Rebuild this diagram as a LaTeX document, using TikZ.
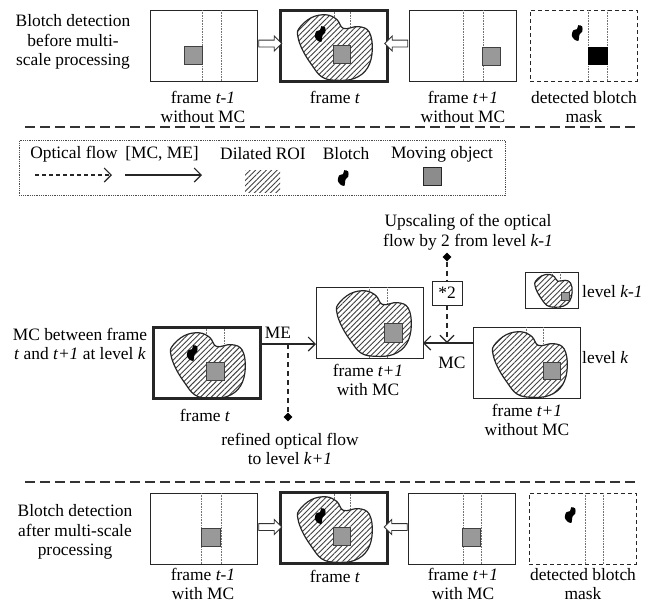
\documentclass[tikz,border=0pt]{standalone}
\usepackage{fontspec}
\setmainfont{Liberation Serif}
\usetikzlibrary{arrows.meta,patterns.meta,shapes.arrows,shapes.geometric,calc}
\begin{document}
\begin{tikzpicture}[x=1pt,y=-1pt,font=\fontsize{17.4}{19.5}\selectfont,
  frm/.style={draw=black!85,line width=0.9pt,minimum width=107pt,minimum height=71pt,inner sep=0pt,outer sep=0pt,anchor=north west},
  frmt/.style={frm,line width=3pt},
  maskbox/.style={frm,dash pattern=on 4pt off 3pt},
  lab/.style={align=center,inner sep=0pt},
  sepline/.style={line width=2pt,dash pattern=on 10pt off 5pt,black!80},
  hollow/.style={single arrow,draw=black!80,line width=0.9pt,fill=white,minimum height=23pt,single arrow head extend=4pt,inner xsep=0pt,inner ysep=3pt,outer sep=0pt},
  dots/.style={densely dotted,black!55,line width=0.6pt},
  sq/.style={fill=black!40,draw=black!75,line width=0.8pt},
  blacksq/.style={fill=black,draw=black},
  hatch/.style={pattern={Lines[angle=45,distance=3.8pt,line width=0.9pt]},pattern color=black!75},
  roi/.style={preaction={fill=white},hatch,draw=black!85,line width=1.2pt},
  flowline/.style={line width=1.8pt,dash pattern=on 5pt off 4pt,black!85},
  solidarrow/.style={line width=1.1pt,black!85,-{Straight Barb[length=7pt,width=14pt,line width=1.1pt]}},
  dasharrow/.style={line width=1.1pt,black!85,dash pattern=on 4pt off 3pt,-{Straight Barb[length=7pt,width=14pt,line width=1.1pt]}},
  dia/.style={diamond,fill=black,inner sep=0pt,minimum size=9pt},
  blob/.pic={\draw[roi] plot[smooth cycle,tension=0.65] coordinates {(19,18.5) (31.2,7.7) (46,4.8) (56.8,9.5) (63.6,18.5) (78.4,16.6) (89.2,22) (92.3,40.1) (87.4,58.1) (74.4,68.4) (56.8,70.3) (42,67) (31.2,54.1) (22.6,40.1) (18,27.1)};},
  blotch/.pic={\fill[black,scale=1.3] plot[smooth cycle,tension=0.5] coordinates {(-4,2) (-3,-2) (0,-3) (1,-6) (4,-5) (4,-1) (2,1) (1,6) (-2,5)};}
]
\useasboundingbox (0,0) rectangle (647,603);

% ---------- top row ----------
\node[lab] (ttext) at (73,42) {Blotch detection\\before multi-\\scale processing};

\node[frm] (f1) at (150,10) {};
\draw[dots] ($(f1.north west)+(52,0)$) -- ($(f1.south west)+(52,0)$);
\draw[dots] ($(f1.north west)+(71,0)$) -- ($(f1.south west)+(71,0)$);
\draw[sq] ($(f1.north west)+(34,36)$) rectangle ($(f1.north west)+(52,54)$);
\node[lab] (l1) at (203,107) {frame \textit{t-1}\\without MC};

\node[frmt] (f2) at (280,10) {};
\draw[dots] ($(f2.north west)+(54,0)$) -- ($(f2.south west)+(54,0)$);
\draw[dots] ($(f2.north west)+(70,0)$) -- ($(f2.south west)+(70,0)$);
\pic at (f2.north west) {blob};
\pic at ($(f2.north west)+(40,24)$) {blotch};
\draw[sq] ($(f2.north west)+(53,35)$) rectangle ($(f2.north west)+(70,53)$);
\node[frmt,fill=none] at (280,10) {};
\node[lab] (l2) at (335,97) {frame \textit{t}};

\node[frm] (f3) at (409,10) {};
\draw[dots] ($(f3.north west)+(54,0)$) -- ($(f3.south west)+(54,0)$);
\draw[dots] ($(f3.north west)+(74,0)$) -- ($(f3.south west)+(74,0)$);
\draw[sq] ($(f3.north west)+(73,37)$) rectangle ($(f3.north west)+(91,55)$);
\node[lab] (l3) at (463,107) {frame \textit{t+1}\\without MC};

\node[maskbox] (m1) at (530,10) {};
\draw[dots] ($(m1.north west)+(58,0)$) -- ($(m1.south west)+(58,0)$);
\draw[dots] ($(m1.north west)+(77,0)$) -- ($(m1.south west)+(77,0)$);
\draw[blacksq] ($(m1.north west)+(58,37)$) rectangle ($(m1.north west)+(77,54)$);
\pic at ($(m1.north west)+(47,23)$) {blotch};
\node[lab] (l4) at (584,107) {detected blotch\\mask};

\node[hollow] (h1) at ($(f1.east)!0.5!(f2.west)+(0,-2)$) {};
\node[hollow,shape border rotate=180] (h2) at ($(f2.east)!0.5!(f3.west)+(0,-2)$) {};

\draw[sepline] (25,127) -- (637,127);

% ---------- legend ----------
\node[draw=black!70,densely dotted,line width=0.8pt,minimum width=486pt,minimum height=55pt,anchor=north west,inner sep=0pt] (leg) at (19,140) {};
\node[lab] (lg1) at (74,154) {Optical flow};
\node[lab] (lg2) at (162,154) {[MC, ME]};
\node[lab] (lg3) at (263,154) {Dilated ROI};
\node[lab] (lg4) at (346,154) {Blotch};
\node[lab] (lg5) at (442,154) {Moving object};
\coordinate (da1) at (35,175);
\coordinate (da2) at (112,175);
\coordinate (sa1) at (125,175);
\coordinate (sa2) at (202,175);
\draw[dasharrow] (da1) -- (da2);
\draw[solidarrow] (sa1) -- (sa2);
\fill[hatch] (245,170) rectangle (280,192);
\pic at (343,178) {blotch};
\draw[sq,fill=black!45,draw=black!85] (423,167) rectangle (441,185);

% ---------- middle ----------
\node[lab] (up) at (468,232) {Upscaling of the optical\\flow by 2 from level \textit{k-1}};
\node[dia] (d1) at (447,257) {};
\node[draw=black!85,line width=0.9pt,minimum width=30pt,minimum height=24pt,inner sep=0pt] (x2) at (447,293) {*2};

\node[lab] (mct) at (80,344) {MC between frame\\\textit{t} and \textit{t+1} at level \textit{k}};

\node[frm] (g1) at (153,327) {};
\draw[dots] ($(g1.north west)+(53,0)$) -- ($(g1.south west)+(53,0)$);
\draw[dots] ($(g1.north west)+(71,0)$) -- ($(g1.south west)+(71,0)$);
\pic at ($(g1.north west)+(0,1)$) {blob};
\pic at ($(g1.north west)+(39,26)$) {blotch};
\draw[sq] ($(g1.north west)+(53,35)$) rectangle ($(g1.north west)+(71,53)$);
\node[frmt,fill=none] at (153,327) {};
\node[lab] (gl1) at (205,415) {frame \textit{t}};

\node[frm] (g2) at (316,287) {};
\draw[dots] ($(g2.north west)+(53,0)$) -- ($(g2.south west)+(53,0)$);
\draw[dots] ($(g2.north west)+(71,0)$) -- ($(g2.south west)+(71,0)$);
\pic at ($(g2.north west)+(3,-1)$) {blob};
\draw[sq] ($(g2.north west)+(68,36)$) rectangle ($(g2.north west)+(86,55)$);
\node[lab] (gl2) at (368,380) {frame \textit{t+1}\\with MC};

\node[frm] (g3) at (473,327) {};
\draw[dots] ($(g3.north west)+(53,0)$) -- ($(g3.south west)+(53,0)$);
\draw[dots] ($(g3.north west)+(70,0)$) -- ($(g3.south west)+(70,0)$);
\pic at ($(g3.north west)+(2,0)$) {blob};
\draw[sq] ($(g3.north west)+(70,35)$) rectangle ($(g3.north west)+(87,52)$);
\node[lab] (gl3) at (527,420) {frame \textit{t+1}\\without MC};
\node[lab,anchor=west] (lk) at (582,358) {level \textit{k}};

\node[frm,minimum width=53pt,minimum height=36pt] (g4) at (525,272) {};
\draw[dots] ($(g4.north west)+(27,0)$) -- ($(g4.south west)+(27,0)$);
\draw[dots] ($(g4.north west)+(35,0)$) -- ($(g4.south west)+(35,0)$);
\pic[scale=0.5] at ($(g4.north west)+(1,0)$) {blob};
\draw[sq,line width=0.6pt] ($(g4.north west)+(36,20)$) rectangle ($(g4.north west)+(44,28)$);
\node[lab,anchor=west] (lk1) at (582,292) {level \textit{k-1}};

% ME arrow
\coordinate (meS) at ($(g1.north east)+(0,17)$);
\coordinate (meE) at (g2.west |- meS);
\draw[solidarrow] (meS) -- (meE);
\node[lab] (me) at (278,333) {ME};
\coordinate (meB) at (288,344);
\node[dia] (d2) at (288,417) {};
\draw[flowline] (meB) -- (d2.north);
\node[lab] (ref) at (290,449) {refined optical flow\\to level \textit{k+1}};

% MC arrow
\coordinate (mcS) at ($(g3.north west)+(0,16)$);
\coordinate (mcE) at (g2.east |- mcS);
\draw[solidarrow] (mcS) -- (mcE);
\node[lab] (mc) at (452,363) {MC};

% upscaling flow
\draw[flowline] (d1.south) -- (x2.north);
\coordinate (x2tip) at (x2.south |- mcS);
\draw[flowline,-{Straight Barb[length=7pt,width=14pt,line width=1.1pt]}] (x2.south) -- (x2tip);

% ---------- bottom row ----------
\draw[sepline] (25,482) -- (637,482);
\node[lab] (btext) at (75,532) {Blotch detection\\after multi-scale\\processing};

\node[frm] (b1) at (150,493) {};
\draw[dots] ($(b1.north west)+(51,0)$) -- ($(b1.south west)+(51,0)$);
\draw[dots] ($(b1.north west)+(71,0)$) -- ($(b1.south west)+(71,0)$);
\draw[sq] ($(b1.north west)+(51,35)$) rectangle ($(b1.north west)+(70,53)$);
\node[lab] (bl1) at (203,584) {frame \textit{t-1}\\with MC};

\node[frmt] (b2) at (280,492) {};
\draw[dots] ($(b2.north west)+(54,0)$) -- ($(b2.south west)+(54,0)$);
\draw[dots] ($(b2.north west)+(70,0)$) -- ($(b2.south west)+(70,0)$);
\pic at (b2.north west) {blob};
\pic at ($(b2.north west)+(40,24)$) {blotch};
\draw[sq] ($(b2.north west)+(53,35)$) rectangle ($(b2.north west)+(70,53)$);
\node[frmt,fill=none] at (280,492) {};
\node[lab] (bl2) at (335,576) {frame \textit{t}};

\node[frm] (b3) at (408,493) {};
\draw[dots] ($(b3.north west)+(55,0)$) -- ($(b3.south west)+(55,0)$);
\draw[dots] ($(b3.north west)+(73,0)$) -- ($(b3.south west)+(73,0)$);
\draw[sq] ($(b3.north west)+(54,35)$) rectangle ($(b3.north west)+(72,53)$);
\node[lab] (bl3) at (463,584) {frame \textit{t+1}\\with MC};

\node[maskbox] (m2) at (529,493) {};
\draw[dots] ($(m2.north west)+(56,0)$) -- ($(m2.south west)+(56,0)$);
\draw[dots] ($(m2.north west)+(74,0)$) -- ($(m2.south west)+(74,0)$);
\pic at ($(m2.north west)+(41,22)$) {blotch};
\node[lab] (bl4) at (583,584) {detected blotch\\mask};

\node[hollow] (h3) at ($(b1.east)!0.5!(b2.west)+(0,-1)$) {};
\node[hollow,shape border rotate=180] (h4) at ($(b2.east)!0.5!(b3.west)+(0,-1)$) {};
\end{tikzpicture}
\end{document}
